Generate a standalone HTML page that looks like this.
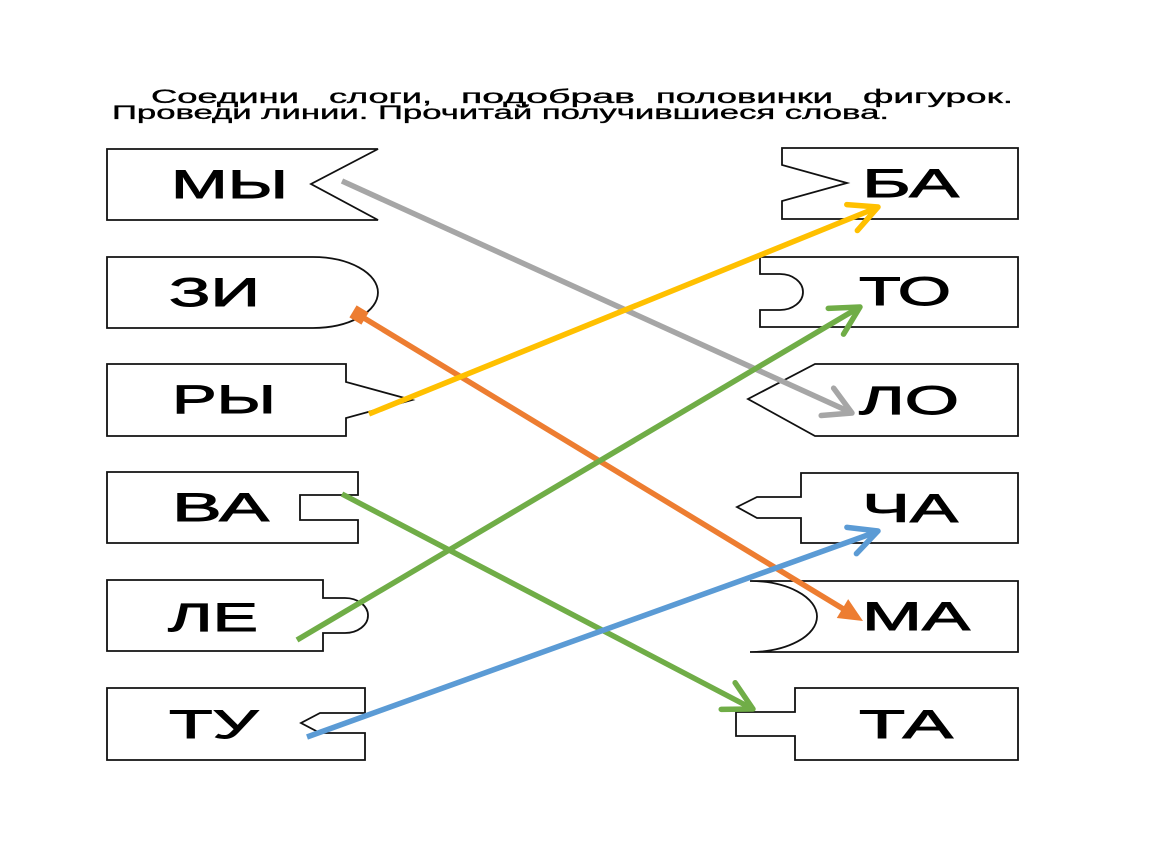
<!DOCTYPE html>
<html>
<head>
<meta charset="utf-8">
<style>
html,body{margin:0;padding:0;background:#fff;}
svg{display:block;}
.t{font-family:"Liberation Sans","DejaVu Sans",sans-serif;fill:#000;}
.lbl{font-size:40px;stroke:#000;stroke-width:0.9px;}
.ttl{font-size:19px;stroke:#000;stroke-width:0.35px;}
.box{fill:#fff;stroke:#111;stroke-width:1.8;stroke-linejoin:miter;}
.ln{fill:none;stroke-width:5.5;stroke-linecap:butt;}
.hd{fill:none;stroke-width:5.5;stroke-linecap:round;stroke-linejoin:round;}
</style>
</head>
<body>
<svg width="1150" height="864" viewBox="0 0 1150 864" xmlns="http://www.w3.org/2000/svg">
<rect width="1150" height="864" fill="#fff"/>

<!-- Title -->
<text class="t ttl" x="151" y="103" textLength="148" lengthAdjust="spacingAndGlyphs">Соедини</text>
<text class="t ttl" x="329" y="103" textLength="103" lengthAdjust="spacingAndGlyphs">слоги,</text>
<text class="t ttl" x="461" y="103" textLength="174" lengthAdjust="spacingAndGlyphs">подобрав</text>
<text class="t ttl" x="656" y="103" textLength="177" lengthAdjust="spacingAndGlyphs">половинки</text>
<text class="t ttl" x="863" y="103" textLength="150" lengthAdjust="spacingAndGlyphs">фигурок.</text>
<text class="t ttl" x="112" y="119" textLength="777" lengthAdjust="spacingAndGlyphs">Проведи линии. Прочитай получившиеся слова.</text>

<!-- Left boxes -->
<path class="box" d="M107,149 L378,149 L311,184 L378,220 L107,220 Z"/>
<path class="box" d="M107,257 L313,257 A65,35.5 0 0 1 313,328 L107,328 Z"/>
<path class="box" d="M107,364 L346,364 L346,382 L412,400 L346,418 L346,436 L107,436 Z"/>
<path class="box" d="M107,472 L358,472 L358,495 L300,495 L300,520 L358,520 L358,543 L107,543 Z"/>
<path class="box" d="M107,580 L323,580 L323,598 L345,598 A23,17.5 0 0 1 345,633 L323,633 L323,651 L107,651 Z"/>
<path class="box" d="M107,688 L365,688 L365,713 L320,713 L301,723 L320,733 L365,733 L365,760 L107,760 Z"/>

<!-- Right boxes -->
<path class="box" d="M782,148 L1018,148 L1018,219 L782,219 L782,201 L847,183 L782,165 Z"/>
<path class="box" d="M760,257 L1018,257 L1018,327 L760,327 L760,310 L780,310 A23,18 0 0 0 780,274 L760,274 Z"/>
<path class="box" d="M815,364 L1018,364 L1018,436 L815,436 L748,399 Z"/>
<path class="box" d="M801,473 L1018,473 L1018,543 L801,543 L801,518 L757,518 L737,507 L757,497 L801,497 Z"/>
<path class="box" d="M750,581 L1018,581 L1018,652 L750,652 A67,35.5 0 0 0 750,581 Z"/>
<path class="box" d="M795,688 L1018,688 L1018,760 L795,760 L795,736 L736,736 L736,712 L795,712 Z"/>

<!-- Left labels -->
<text class="t lbl" x="171" y="198" textLength="117" lengthAdjust="spacingAndGlyphs">МЫ</text>
<text class="t lbl" x="169" y="306" textLength="91" lengthAdjust="spacingAndGlyphs">ЗИ</text>
<text class="t lbl" x="172" y="413" textLength="104" lengthAdjust="spacingAndGlyphs">РЫ</text>
<text class="t lbl" x="172" y="521" textLength="97" lengthAdjust="spacingAndGlyphs">ВА</text>
<text class="t lbl" x="168" y="631" textLength="90" lengthAdjust="spacingAndGlyphs">ЛЕ</text>
<text class="t lbl" x="169" y="738" textLength="89" lengthAdjust="spacingAndGlyphs">ТУ</text>

<!-- Right labels -->
<text class="t lbl" x="862" y="197" textLength="97" lengthAdjust="spacingAndGlyphs">БА</text>
<text class="t lbl" x="859" y="305" textLength="92" lengthAdjust="spacingAndGlyphs">ТО</text>
<text class="t lbl" x="859" y="414" textLength="100" lengthAdjust="spacingAndGlyphs">ЛО</text>
<text class="t lbl" x="862" y="522" textLength="96" lengthAdjust="spacingAndGlyphs">ЧА</text>
<text class="t lbl" x="862" y="630" textLength="108" lengthAdjust="spacingAndGlyphs">МА</text>
<text class="t lbl" x="859" y="738" textLength="94" lengthAdjust="spacingAndGlyphs">ТА</text>

<!-- Gray: МЫ -> ЛО -->
<line class="ln" stroke="#a6a6a6" x1="342" y1="181" x2="850" y2="412"/>
<g transform="translate(852,413) rotate(24.46)"><polyline class="hd" stroke="#a6a6a6" points="-27,-15 0,0 -27,15"/></g>

<!-- Orange: ЗИ -> МА -->
<line class="ln" stroke="#ed7d31" x1="359" y1="315" x2="845" y2="610"/>
<rect x="352" y="308" width="14" height="14" fill="#ed7d31" transform="rotate(31 359 315)"/>
<g transform="translate(863,621) rotate(31.18)"><polygon fill="#ed7d31" points="0,0 -24,-11 -24,11"/></g>

<!-- Yellow: РЫ -> БА -->
<line class="ln" stroke="#ffc000" x1="369" y1="414" x2="876" y2="208"/>
<g transform="translate(878,207) rotate(-22.13)"><polyline class="hd" stroke="#ffc000" points="-28,-14 0,0 -28,14"/></g>

<!-- Green: ВА -> ТА -->
<line class="ln" stroke="#70ad47" x1="342" y1="494" x2="751" y2="708"/>
<g transform="translate(753,709) rotate(27.6)"><polyline class="hd" stroke="#70ad47" points="-28,-15 0,0 -28,15"/></g>

<!-- Green: ЛЕ -> ТО -->
<line class="ln" stroke="#70ad47" x1="297" y1="640" x2="858" y2="308"/>
<g transform="translate(860,307) rotate(-30.6)"><polyline class="hd" stroke="#70ad47" points="-28,-15 0,0 -28,15"/></g>

<!-- Blue: ТУ -> ЧА -->
<line class="ln" stroke="#5b9bd5" x1="307" y1="737" x2="876" y2="532"/>
<g transform="translate(878,531) rotate(-19.84)"><polyline class="hd" stroke="#5b9bd5" points="-28,-14 0,0 -28,14"/></g>

</svg>
</body>
</html>
